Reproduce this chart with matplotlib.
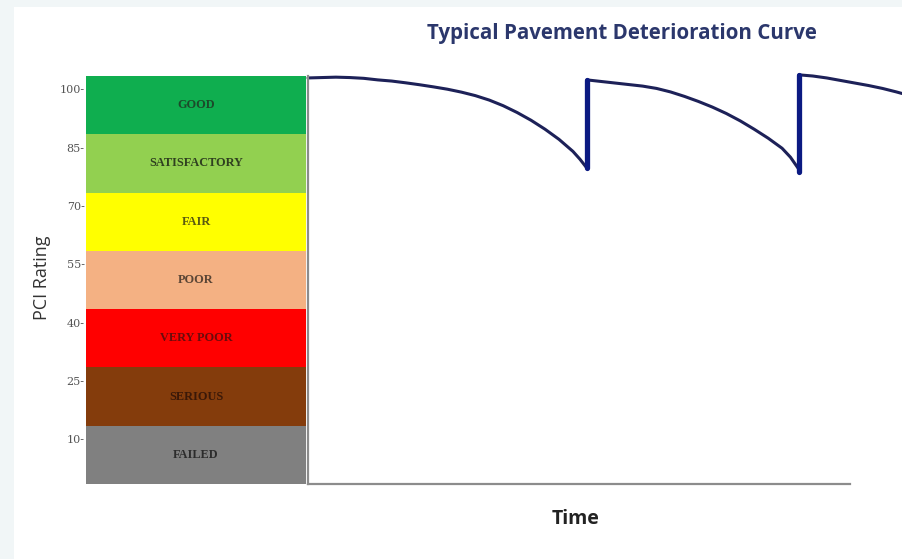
import numpy as np
import matplotlib
matplotlib.use("Agg")
import matplotlib.pyplot as plt
import matplotlib.transforms as mtransforms
from matplotlib.patches import Rectangle

# PCI condition bands (top to bottom)
band_names = ["GOOD", "SATISFACTORY", "FAIR", "POOR", "VERY POOR", "SERIOUS", "FAILED"]
band_tops = [100, 85, 70, 55, 40, 25, 10]
band_bottoms = [85, 70, 55, 40, 25, 10, -5]
band_colors = ["#0fae4f", "#92d050", "#ffff00", "#f4b183", "#ff0000", "#843c0c", "#808080"]
band_text_colors = ["#1c4a2a", "#2f4020", "#5a5a10", "#5a4535", "#6a0c0c", "#3a1808", "#2c2c2c"]

tick_values = [100, 85, 70, 55, 40, 25, 10]
tick_labels = ["100-", "85-", "70-", "55-", "40-", "25-", "10-"]

# deterioration curve (time in arbitrary years, PCI value)
cycle1_t = [0, 0.5, 1, 1.5, 2, 2.5, 3, 3.5, 4, 4.5, 5, 5.5, 6, 6.5, 7, 7.5, 8,
            8.5, 9, 9.5, 9.75, 10]
cycle1_pci = [99.5, 99.6, 99.7, 99.6, 99.4, 99.0, 98.7, 98.25, 97.75, 97.2, 96.6,
              95.85, 94.95, 93.8, 92.35, 90.6, 88.6, 86.3, 83.7, 80.6, 78.6, 76.3]
cycle2_t = [10, 10.5, 11, 11.5, 12, 12.5, 13, 13.5, 14, 14.5, 15, 15.5, 16, 16.5,
            17, 17.3, 17.6]
cycle2_pci = [99.0, 98.6, 98.2, 97.8, 97.4, 96.8, 95.9, 94.75, 93.45, 92.0, 90.35,
              88.45, 86.3, 84.0, 81.4, 79.1, 76.0]
cycle3_t = [17.6, 18.1, 18.6, 19.1, 19.6, 20.1, 20.6, 21.1, 21.3]
cycle3_pci = [100.3, 100.0, 99.5, 98.85, 98.2, 97.55, 96.8, 95.9, 95.5]

# rehabilitation jumps (time, low, high)
jump_t = [10.0, 17.6]
jump_low = [76.3, 75.4]
jump_high = [99.0, 100.3]

W, H = 902, 559
fig = plt.figure(figsize=(W / 100, H / 100), dpi=100, facecolor="#f1f6f7")
fig.patches.append(Rectangle((14 / W, 0), 1 - 14 / W, (H - 7) / H,
                             transform=fig.transFigure, facecolor="white",
                             edgecolor="none", zorder=-10))

bottom = (H - 484) / H
height = 408 / H

# band column
ax_b = fig.add_axes([86 / W, bottom, 220 / W, height])
heights = np.array(band_tops) - np.array(band_bottoms)
ax_b.bar(0.5, heights, bottom=band_bottoms, width=1.0, color=band_colors,
         edgecolor="none")
for name, lo, hi, tc in zip(band_names, band_bottoms, band_tops, band_text_colors):
    ax_b.text(0.5, (lo + hi) / 2, name, ha="center", va="center",
              fontsize=8.8, fontweight="bold", family="Liberation Serif", color=tc)
ax_b.set_xlim(0, 1)
ax_b.set_ylim(-5, 100)
ax_b.set_xticks([])
ax_b.set_yticks(tick_values)
ax_b.set_yticklabels(tick_labels, family="DejaVu Serif", fontsize=8, color="#555555")
ax_b.tick_params(axis="y", length=0, pad=1)
offset = mtransforms.ScaledTranslation(0, -13.5 / 100, fig.dpi_scale_trans)
for lab in ax_b.get_yticklabels():
    lab.set_transform(lab.get_transform() + offset)
for s in ax_b.spines.values():
    s.set_visible(False)
ax_b.patch.set_alpha(0)

# curve panel
ax = fig.add_axes([308 / W, bottom, (W - 308) / W, height])
ax.set_xlim(0, 21.3)
ax.set_ylim(-5, 100)
curve_col = "#1d2158"
jump_col = "#0b1a82"
for t, p in [(cycle1_t, cycle1_pci), (cycle2_t, cycle2_pci), (cycle3_t, cycle3_pci)]:
    ax.plot(t, p, color=curve_col, lw=2.2, solid_capstyle="round",
            solid_joinstyle="round", clip_on=False)
ax.vlines(jump_t, jump_low, jump_high, color=jump_col, lw=3.8, clip_on=False,
          capstyle="round")
ax.set_xticks([])
ax.set_yticks([])
ax.spines["top"].set_visible(False)
ax.spines["right"].set_visible(False)
for side in ["left", "bottom"]:
    ax.spines[side].set_color("#8c8c8c")
    ax.spines[side].set_linewidth(1.6)
ax.spines["bottom"].set_bounds(0, 19.45)
ax.patch.set_alpha(0)

fig.text(622 / W, 1 - 34 / H, "Typical Pavement Deterioration Curve", ha="center",
         va="center", fontsize=14.8, fontweight="bold", family="Open Sans",
         color="#2b376c")
fig.text(576 / W, 1 - 519 / H, "Time", ha="center", va="center", fontsize=14,
         fontweight="bold", family="Open Sans", color="#222222")
fig.text(42 / W, 1 - 278 / H, "PCI Rating", ha="center", va="center", rotation=90,
         fontsize=13, family="Open Sans", color="#333333")

fig.savefig("out.png", dpi=100, facecolor=fig.get_facecolor())
